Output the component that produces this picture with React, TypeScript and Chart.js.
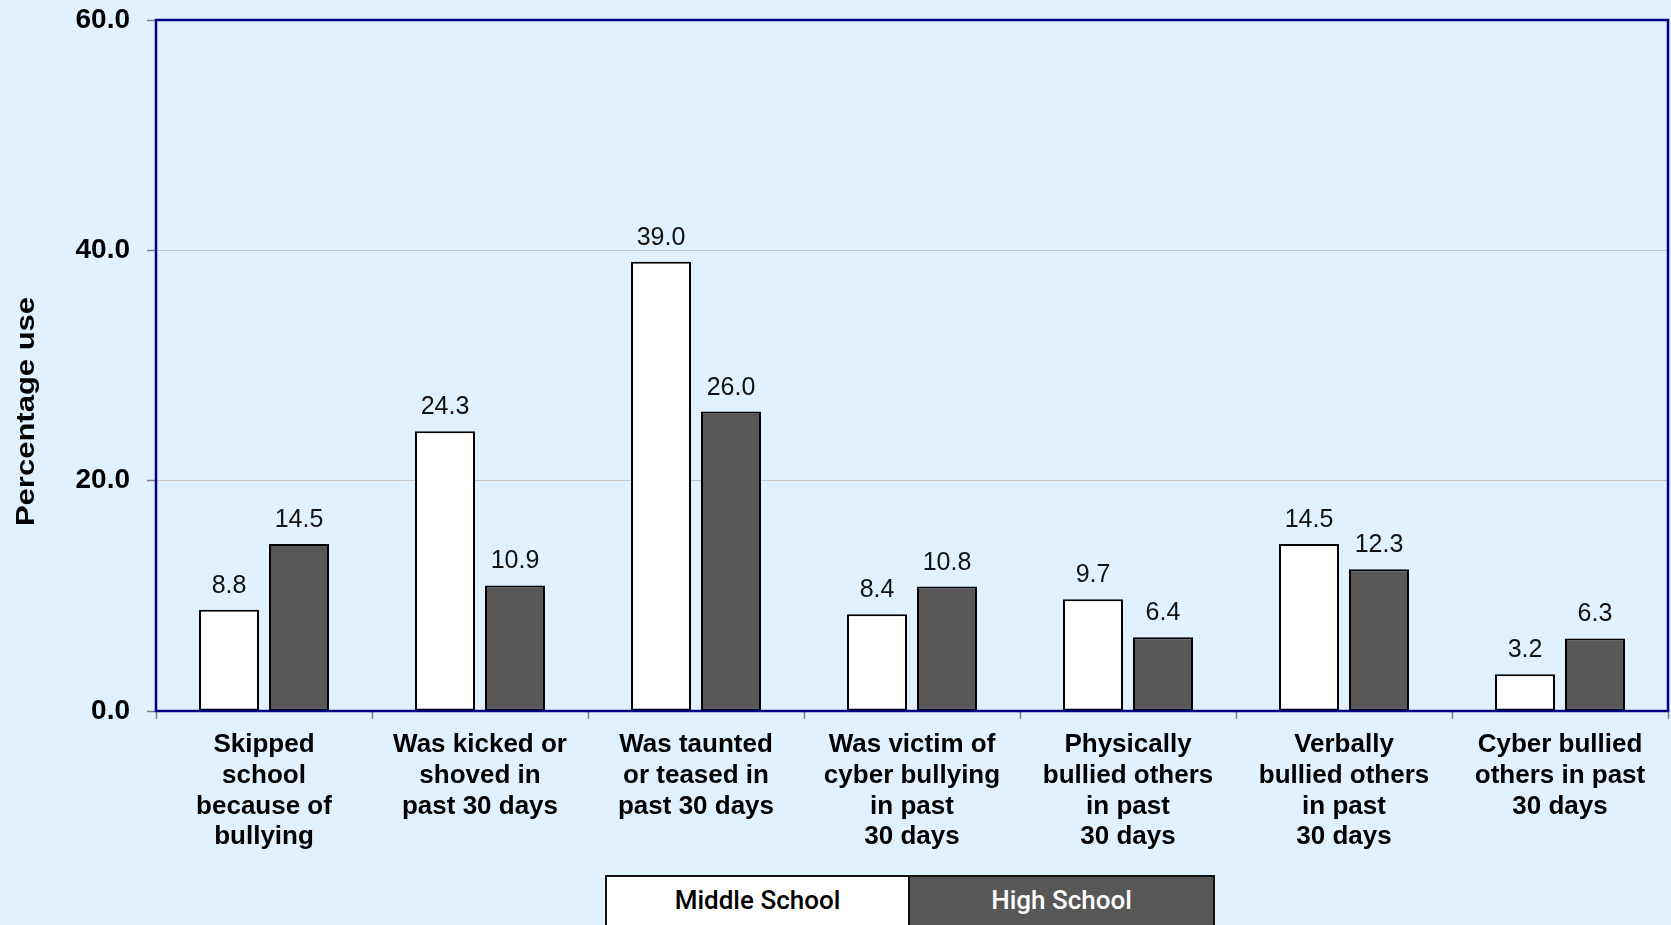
import React, { useEffect, useRef } from "react";
import { Chart, registerables } from "chart.js";

Chart.register(...registerables);

const categories: string[][] = [
  ["Skipped", "school", "because of", "bullying"],
  ["Was kicked or", "shoved in", "past 30 days"],
  ["Was taunted", "or teased in", "past 30 days"],
  ["Was victim of", "cyber bullying", "in past", "30 days"],
  ["Physically", "bullied others", "in past", "30 days"],
  ["Verbally", "bullied others", "in past", "30 days"],
  ["Cyber bullied", "others in past", "30 days"],
];
const middleSchool = [8.8, 24.3, 39.0, 8.4, 9.7, 14.5, 3.2];
const highSchool = [14.5, 10.9, 26.0, 10.8, 6.4, 12.3, 6.3];
const seriesNames = ["Middle School", "High School"];
const yMin = 0;
const yMax = 60;
const yStep = 20;
const yTitle = "Percentage use";

const BG = "#E0F2FF";
const NAVY = "#000080";
const DARK = "#575757";

const framePlugin = {
  id: "frame",
  afterDatasetsDraw(chart: any) {
    const { ctx, chartArea } = chart;
    ctx.save();
    ctx.strokeStyle = NAVY;
    ctx.lineWidth = 2.5;
    ctx.strokeRect(chartArea.left, chartArea.top, chartArea.right - chartArea.left, chartArea.bottom - chartArea.top);
    ctx.restore();
  },
};

const valueLabelPlugin = {
  id: "valueLabels",
  afterDatasetsDraw(chart: any) {
    const { ctx } = chart;
    ctx.save();
    ctx.font = "25px 'Liberation Sans', Arial, sans-serif";
    ctx.fillStyle = "#111111";
    ctx.textAlign = "center";
    ctx.textBaseline = "alphabetic";
    chart.data.datasets.forEach((ds: any, i: number) => {
      const meta = chart.getDatasetMeta(i);
      meta.data.forEach((el: any, j: number) => {
        const v = ds.data[j] as number;
        ctx.fillText(v.toFixed(1), el.x, el.y - 17);
      });
    });
    ctx.restore();
  },
};

const yTitlePlugin = {
  id: "yTitleCustom",
  afterDraw(chart: any) {
    const { ctx, chartArea } = chart;
    ctx.save();
    ctx.translate(27, (chartArea.top + chartArea.bottom) / 2 + 46);
    ctx.rotate(-Math.PI / 2);
    ctx.scale(1.24, 1);
    ctx.font = "bold 25px 'Liberation Sans', Arial, sans-serif";
    ctx.fillStyle = "#000000";
    ctx.textAlign = "center";
    ctx.textBaseline = "middle";
    ctx.fillText(yTitle, 0, 0);
    ctx.restore();
  },
};

export default function App() {
  const ref = useRef<HTMLCanvasElement | null>(null);

  useEffect(() => {
    document.body.style.margin = "0";
    document.body.style.overflow = "hidden";
    document.body.style.background = BG;
    if (!ref.current) return;
    const chart = new Chart(ref.current, {
      type: "bar",
      data: {
        labels: categories,
        datasets: [
          {
            label: seriesNames[0],
            data: middleSchool,
            backgroundColor: "#FFFFFF",
            borderColor: "#000000",
            borderWidth: 2,
            borderSkipped: false,
            categoryPercentage: 0.648,
            barPercentage: 0.857,
          },
          {
            label: seriesNames[1],
            data: highSchool,
            backgroundColor: DARK,
            borderColor: "#000000",
            borderWidth: 2,
            borderSkipped: false,
            categoryPercentage: 0.648,
            barPercentage: 0.857,
          },
        ],
      },
      options: {
        responsive: false,
        animation: false,
        devicePixelRatio: 1,
        layout: { padding: { left: 0, right: 3, top: 20, bottom: 0 } },
        plugins: {
          legend: { display: false },
          tooltip: { enabled: false },
        },
        scales: {
          x: {
            offset: true,
            border: { display: false },
            grid: {
              display: true,
              drawOnChartArea: false,
              drawTicks: true,
              offset: true,
              tickLength: 8,
              tickColor: "#808080",
              tickWidth: 1.5,
            },
            ticks: {
              autoSkip: false,
              maxRotation: 0,
              minRotation: 0,
              padding: 10,
              color: "#000000",
              font: { family: "'Liberation Sans', Arial, sans-serif", size: 26, weight: "bold", lineHeight: 1.19 },
            },
            afterFit: (s: any) => {
              s.height = 214;
            },
          },
          y: {
            min: yMin,
            max: yMax,
            border: { display: false },
            grid: {
              color: (c: any) => (c.tick && (c.tick.value === yMin || c.tick.value === yMax) ? "rgba(0,0,0,0)" : "#C4C4C4"),
              lineWidth: 1,
              tickLength: 9,
              tickColor: "#808080",
              tickWidth: 1.5,
            },
            ticks: {
              stepSize: yStep,
              padding: 17,
              color: "#000000",
              font: { family: "'Liberation Sans', Arial, sans-serif", size: 28, weight: "bold" },
              callback: (v: any) => Number(v).toFixed(1),
            },
            afterFit: (s: any) => {
              s.width = 156;
              s.paddingTop = 0;
              s.paddingBottom = 0;
            },
          },
        },
      },
      plugins: [framePlugin, valueLabelPlugin, yTitlePlugin],
    });
    return () => chart.destroy();
  }, []);

  const cell = {
    width: 305,
    height: 60,
    boxSizing: "border-box" as const,
    border: "2.5px solid #111111",
    lineHeight: "47px",
    textAlign: "center" as const,
    fontFamily: "Roboto, 'Liberation Sans', Arial, sans-serif",
    fontWeight: 500,
    fontSize: 26,
  };

  return (
    <div style={{ position: "relative", width: 1671, height: 925, overflow: "hidden", background: BG }}>
      <canvas ref={ref} width={1671} height={925} style={{ display: "block", width: 1671, height: 925 }} />
      <div style={{ position: "absolute", left: 605, top: 875, display: "flex" }}>
        <div style={{ ...cell, background: "#FFFFFF", color: "#000000" }}>{seriesNames[0]}</div>
        <div style={{ ...cell, background: DARK, color: "#FFFFFF", borderLeft: "none" }}>{seriesNames[1]}</div>
      </div>
    </div>
  );
}
